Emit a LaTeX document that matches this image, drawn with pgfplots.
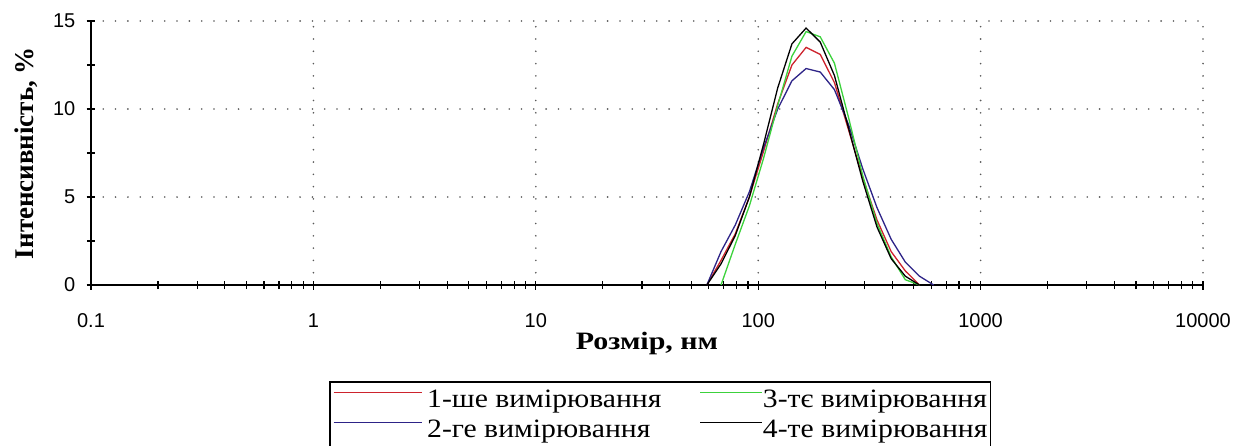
\documentclass[border=0pt]{standalone}
\usepackage{fontspec}
\setmainfont{Liberation Serif}
\newfontfamily\sansf{Liberation Sans}
\newfontfamily\legfont[FakeStretch=1.12]{Liberation Serif}
\newfontfamily\xlabfont[FakeStretch=1.2]{Liberation Serif}
\usepackage{pgfplots}
\pgfplotsset{compat=1.18}
\definecolor{cred}{RGB}{205,35,45}
\definecolor{cblue}{RGB}{45,35,135}
\definecolor{cgreen}{RGB}{60,210,60}
\pgfplotsset{
  longleg/.style={legend image code/.code={\draw[draw=#1, line width=1.5pt] (0pt,8pt) -- (88pt,8pt); \path (93pt,8pt);}},
  shortleg/.style={legend image code/.code={\draw[draw=#1, line width=1.5pt] (0pt,8pt) -- (62pt,8pt);}},
}
\begin{document}
\begin{tikzpicture}
\path[use as bounding box] (0pt,0pt) rectangle (1236pt,445pt);
\begin{axis}[
  at={(91pt,160pt)}, anchor=south west,
  scale only axis, width=1112pt, height=264pt,
  xmode=log, log basis x=10,
  xmin=0.1, xmax=10000, ymin=0, ymax=15,
  xtick={0.1,1,10,100,1000,10000},
  xticklabels={0.1,1,10,100,1000,10000},
  minor xtick={0.2,0.3,0.4,0.5,0.6,0.7,0.8,0.9,2,3,4,5,6,7,8,9,20,30,40,50,60,70,80,90,200,300,400,500,600,700,800,900,2000,3000,4000,5000,6000,7000,8000,9000},
  ytick={0,5,10,15},
  yticklabels={0,5,10,15},
  minor ytick={2.5,7.5,12.5},
  axis x line*=bottom, axis y line*=left,
  tick align=center,
  major tick length=9pt, minor tick length=8pt,
  every tick/.style={black, line width=1.2pt},
  axis line style={black, line width=1.6pt},
  xmajorgrids, ymajorgrids,
  major grid style={black!65, line width=1.8pt, line cap=round, dash pattern=on 0pt off 12.3pt},
  ticklabel style={font=\sansf\fontsize{20}{24}\selectfont, inner sep=0pt},
  xticklabel style={anchor=center, yshift=-31pt},
  yticklabel style={anchor=east, xshift=-11pt},
  every axis x label/.style={at={(axis description cs:0.5,-0.2197)}, anchor=center, font=\xlabfont\bfseries\fontsize{25}{28}\selectfont},
  every axis y label/.style={at={(axis description cs:-0.0585,0.5)}, rotate=90, anchor=center, font=\bfseries\fontsize{27}{30}\selectfont},
  xlabel={Розмір, нм},
  ylabel={Інтенсивність, \%},
  legend columns=2, transpose legend,
  legend cell align=left,
  legend style={at={(axis description cs:0.214,-0.3636)}, anchor=north west,
    draw=black, line width=1.6pt, inner xsep=3pt, inner ysep=6pt,
    font=\legfont\fontsize{26.5}{30}\selectfont, row sep=5pt,
    nodes={inner xsep=0pt, inner ysep=0pt, text height=20pt, text depth=5pt},
    /tikz/column 2/.style={column sep=38pt}},
]
\addplot[cred, line width=1.3pt, longleg=cred] coordinates {
(58.77,0) (68.06,1.4) (78.82,2.9) (91.28,5.0) (105.7,7.6) (122.4,10.3) (141.8,12.5) (164.2,13.5) (190.1,13.1) (220.2,11.5) (255.0,8.8) (295.3,6.1) (342.0,3.7) (396.1,1.9) (458.7,0.8) (531.2,0)
};
\addlegendentry{1-ше вимірювання}
\addplot[cblue, line width=1.3pt, longleg=cblue] coordinates {
(58.77,0) (68.06,1.9) (78.82,3.4) (91.28,5.3) (105.7,7.8) (122.4,10.0) (141.8,11.6) (164.2,12.3) (190.1,12.1) (220.2,11.1) (255.0,9.1) (295.3,6.6) (342.0,4.4) (396.1,2.6) (458.7,1.3) (531.2,0.5) (615.1,0)
};
\addlegendentry{2-ге вимірювання}
\addplot[cgreen, line width=1.3pt, shortleg=cgreen] coordinates {
(68.06,0) (78.82,2.3) (91.28,4.5) (105.7,7.2) (122.4,10.2) (141.8,13.0) (164.2,14.4) (190.1,14.1) (220.2,12.6) (255.0,9.5) (295.3,6.2) (342.0,3.5) (396.1,1.6) (458.7,0.3) (531.2,0)
};
\addlegendentry{3-тє вимірювання}
\addplot[black, line width=1.3pt, shortleg=black] coordinates {
(50.75,0) (58.77,0) (68.06,1.2) (78.82,2.8) (91.28,5.0) (105.7,8.0) (122.4,11.2) (141.8,13.7) (164.2,14.6) (190.1,13.8) (220.2,11.9) (255.0,8.9) (295.3,5.9) (342.0,3.3) (396.1,1.5) (458.7,0.5) (531.2,0)
};
\addlegendentry{4-те вимірювання}
\end{axis}
\end{tikzpicture}
\end{document}
